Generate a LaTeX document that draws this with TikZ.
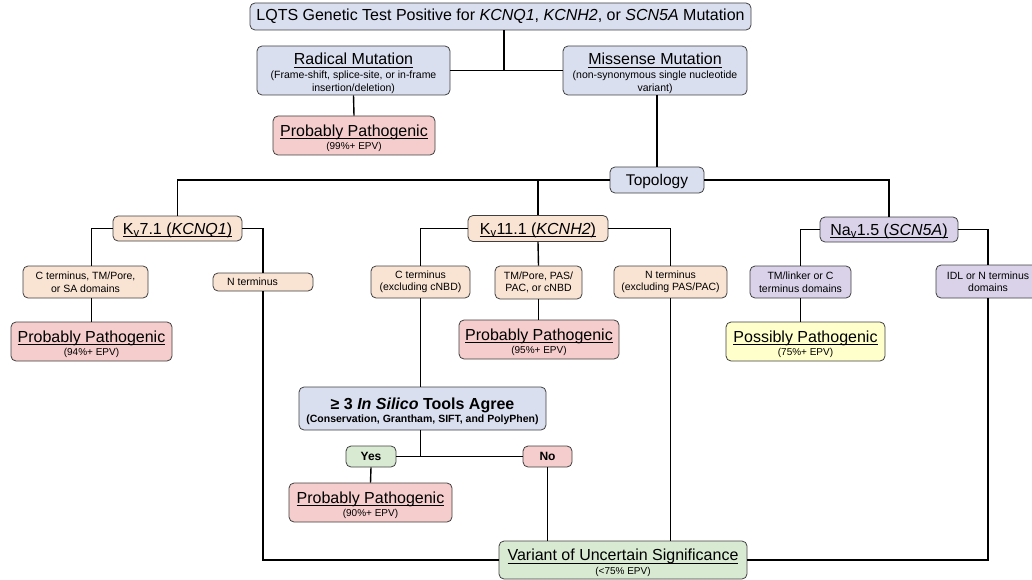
\documentclass[tikz,border=0pt]{standalone}
\usepackage{fontspec}
\setmainfont{Liberation Sans}
\newcommand\myul[1]{\setbox0\hbox{#1}\rlap{\rule[-0.16em]{\wd0}{0.06em}}\box0}
\newcommand\bigf{\fontsize{16}{18}\selectfont}
\newcommand\smallf{\fontsize{10.5}{12.5}\selectfont}
\newcommand\epvf{\fontsize{10}{12}\selectfont}
\newcommand\tstrut{\rule{0pt}{17.5pt}}
\newcommand\kstrut{\rule{0pt}{14.5pt}}
\definecolor{cblue}{RGB}{218,223,239}
\definecolor{cpeach}{RGB}{249,227,211}
\definecolor{cpink}{RGB}{244,205,204}
\definecolor{cpurple}{RGB}{218,210,233}
\definecolor{cyellow}{RGB}{255,255,204}
\definecolor{cgreen}{RGB}{217,234,211}
\tikzset{
  box/.style={draw=black!75, line width=0.8pt, rounded corners=5pt, align=center, inner sep=0pt, font=\smallf},
  conn/.style={line width=1.4pt, black},
}
\begin{document}
\begin{tikzpicture}[x=1pt,y=-1pt]
\useasboundingbox (0,0) rectangle (1032,580);
% nodes
\node[box, fill=cblue, minimum width=501pt, minimum height=27pt, font=\bigf] (top) at (500.5,16.5) {LQTS Genetic Test Positive for \textit{KCNQ1}, \textit{KCNH2}, or \textit{SCN5A} Mutation};
\node[box, fill=cblue, minimum width=193pt, minimum height=49pt] (radical) at (353.5,70.5) {\bigf\tstrut\myul{Radical Mutation}\\[1.5pt] (Frame-shift, splice-site, or in-frame\\ insertion/deletion)};
\node[box, fill=cblue, minimum width=184pt, minimum height=49pt] (missense) at (655,70.5) {\bigf\tstrut\myul{Missense Mutation}\\[1.5pt] (non-synonymous single nucleotide\\ variant)};
\node[box, fill=cpink, minimum width=162pt, minimum height=39pt] (pp99) at (354,135.5) {\bigf\tstrut\myul{Probably Pathogenic}\\[1pt] \epvf(99\%+ EPV)};
\node[box, fill=cblue, minimum width=94pt, minimum height=26pt, font=\fontsize{15.5}{17}\selectfont] (topology) at (657,180) {\kstrut Topology};
\node[box, fill=cpeach, minimum width=129pt, minimum height=25pt] (kv71) at (177.5,228.5) {\bigf\kstrut\myul{K\textsubscript{v}7.1 (\textit{KCNQ1})}};
\node[box, fill=cpeach, minimum width=140pt, minimum height=26pt] (kv111) at (538,228.5) {\bigf\kstrut\myul{K\textsubscript{v}11.1 (\textit{KCNH2})}};
\node[box, fill=cpurple, minimum width=138pt, minimum height=25pt] (nav15) at (889,229.5) {\bigf\kstrut\myul{Na\textsubscript{v}1.5 (\textit{SCN5A})}};
\node[box, fill=cpeach, minimum width=125pt, minimum height=32pt] (cterm71) at (85.5,282) {C terminus, TM/Pore,\\ or SA domains};
\node[box, fill=cpeach, minimum width=100pt, minimum height=18pt] (nterm71) at (263,282) {N terminus\hspace*{21pt}};
\node[box, fill=cpeach, minimum width=99pt, minimum height=32pt] (ctermex) at (420.5,282) {C terminus\\ (excluding cNBD)};
\node[box, fill=cpeach, minimum width=87pt, minimum height=33pt] (tmpore) at (538.5,282.5) {TM/Pore, PAS/\\ PAC, or cNBD};
\node[box, fill=cpeach, minimum width=113pt, minimum height=32pt] (ntermex) at (670.5,282) {N terminus\\ (excluding PAS/PAC)};
\node[box, fill=cpurple, minimum width=101pt, minimum height=32pt] (tmlinker) at (800.5,282) {TM/linker or C\\ terminus domains};
\node[box, fill=cpurple, minimum width=104pt, minimum height=33pt] (idl) at (988,281.5) {IDL or N terminus\\ domains};
\node[box, fill=cpink, minimum width=161pt, minimum height=39pt] (pp94) at (91.5,341.5) {\bigf\tstrut\myul{Probably Pathogenic}\\[1pt] \epvf(94\%+ EPV)};
\node[box, fill=cpink, minimum width=160pt, minimum height=39pt] (pp95) at (539,339.5) {\bigf\tstrut\myul{Probably Pathogenic}\\[1pt] \epvf(95\%+ EPV)};
\node[box, fill=cyellow, minimum width=159pt, minimum height=39pt] (possibly) at (805.5,341.5) {\bigf\tstrut\myul{Possibly Pathogenic}\\[1pt] \epvf(75\%+ EPV)};
\node[box, fill=cblue, minimum width=247pt, minimum height=43pt] (insilico) at (422.5,408.5) {\bigf\bfseries\tstrut ≥ 3 \textit{In Silico} Tools Agree\\[1pt] \bfseries (Conservation, Grantham, SIFT, and PolyPhen)};
\node[box, fill=cgreen, minimum width=50pt, minimum height=21pt, font=\fontsize{12}{14}\selectfont\bfseries] (yes) at (371,456.5) {Yes};
\node[box, fill=cpink, minimum width=49pt, minimum height=21pt, font=\fontsize{12}{14}\selectfont\bfseries] (no) at (547.5,456.5) {No};
\node[box, fill=cpink, minimum width=163pt, minimum height=39pt] (pp90) at (370.5,502.5) {\bigf\tstrut\myul{Probably Pathogenic}\\[1pt] \epvf(90\%+ EPV)};
\node[box, fill=cgreen, minimum width=248pt, minimum height=38pt] (vus) at (623,560) {\bigf\tstrut\myul{Variant of Uncertain Significance}\\[1pt] \epvf(<75\% EPV)};
% connectors
\coordinate (j1) at (504,71);
\draw[conn] (radical.east) -- (missense.west);
\draw[conn] (j1 |- top.south) -- (j1);
\draw[conn] (radical.south) -- (pp99.north);
\draw[conn] (missense.south -| topology.north) -- (topology.north);
\draw[conn] (topology.west) -| (kv71.north);
\draw[conn] (kv111.north |- topology.west) -- (kv111.north);
\draw[conn] (topology.east) -| (nav15.north);
\draw[conn] (kv71.west) -| (cterm71.north -| pp94.north);
\draw[conn] (cterm71.south -| pp94.north) -- (pp94.north);
\draw[conn] (kv71.east) -| (nterm71.north);
\draw[conn] (nterm71.south) |- (vus.west);
\draw[conn] (kv111.west) -| (ctermex.north);
\draw[conn] (ctermex.south) -- (ctermex.south |- insilico.north);
\draw[conn] (kv111.south) -- (tmpore.north);
\draw[conn] (tmpore.south) -- (tmpore.south |- pp95.north);
\draw[conn] (kv111.east) -| (ntermex.north);
\draw[conn] (ntermex.south) -- (ntermex.south |- vus.north);
\draw[conn] (nav15.west) -| (tmlinker.north);
\draw[conn] (tmlinker.south) -- (tmlinker.south |- possibly.north);
\draw[conn] (nav15.east) -| (idl.north);
\draw[conn] (idl.south) |- (vus.east);
\coordinate (j2) at (ctermex.south |- yes.east);
\draw[conn] (yes.east) -- (no.west);
\draw[conn] (insilico.south -| j2) -- (j2);
\draw[conn] (yes.south) -- (pp90.north);
\draw[conn] (no.south) -- (no.south |- vus.north);
\end{tikzpicture}
\end{document}
